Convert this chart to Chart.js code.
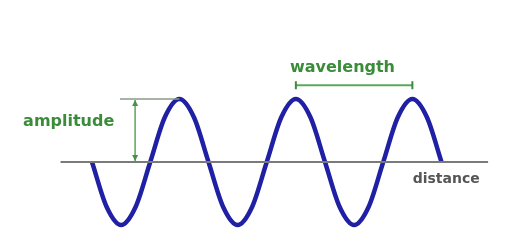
<!DOCTYPE html>
<html>
<head>
<meta charset="utf-8">
<style>
  body { margin: 0; background: #fff; }
  #box { width: 509px; height: 249px; }
</style>
</head>
<body>
<div id="box"><canvas id="wave" width="509" height="249"></canvas></div>
<script src="https://cdn.jsdelivr.net/npm/chart.js@4/dist/chart.umd.min.js"></script>
<script>
// distance in wavelengths, displacement in amplitudes
var wave_x = [0, 0.125, 0.25, 0.375, 0.5, 0.625, 0.75, 0.875,
              1, 1.125, 1.25, 1.375, 1.5, 1.625, 1.75, 1.875,
              2, 2.125, 2.25, 2.375, 2.5, 2.625, 2.75, 2.875, 3];
var wave_y = [0, -0.71, -1, -0.71, 0, 0.71, 1, 0.71,
              0, -0.71, -1, -0.71, 0, 0.71, 1, 0.71,
              0, -0.71, -1, -0.71, 0, 0.71, 1, 0.71, 0];
var axis_x = [-0.27, 3.4];
var axis_y = [0, 0];

var label_text = ["amplitude", "wavelength", "distance"];
var amp_at = 0.37;          // where the amplitude arrow stands
var amp_value = 1;
var wl_from = 1.75, wl_to = 2.75, wl_level = 1.22;

function pts(xs, ys) {
    var out = [];
    for (var i = 0; i < xs.length; i++) out.push({x: xs[i], y: ys[i]});
    return out;
}

var green = "#5aa85a";
var greenText = "#3a8c3a";

var marks = {
    id: "marks",
    afterDatasetsDraw: function (chart) {
        var ctx = chart.ctx;
        var sx = chart.scales.x, sy = chart.scales.y;
        var px = function (v) { return sx.getPixelForValue(v); };
        var py = function (v) { return sy.getPixelForValue(v); };
        ctx.save();

        // guide line at the crest
        ctx.strokeStyle = "#8a9a8a";
        ctx.lineWidth = 1.5;
        ctx.beginPath();
        ctx.moveTo(px(amp_at - 0.13), py(amp_value));
        ctx.lineTo(px(0.75), py(amp_value));
        ctx.stroke();

        // amplitude arrow
        var ax = px(amp_at), top = py(amp_value) + 1, bot = py(0) - 1;
        ctx.strokeStyle = green;
        ctx.lineWidth = 1.5;
        ctx.beginPath();
        ctx.moveTo(ax, top);
        ctx.lineTo(ax, bot);
        ctx.stroke();
        ctx.fillStyle = "#4a8f4a";
        ctx.beginPath();
        ctx.moveTo(ax, top); ctx.lineTo(ax - 3, top + 6); ctx.lineTo(ax + 3, top + 6);
        ctx.closePath(); ctx.fill();
        ctx.beginPath();
        ctx.moveTo(ax, bot); ctx.lineTo(ax - 3, bot - 6); ctx.lineTo(ax + 3, bot - 6);
        ctx.closePath(); ctx.fill();

        // wavelength bar
        var wy = py(wl_level), x1 = px(wl_from), x2 = px(wl_to);
        ctx.strokeStyle = green;
        ctx.lineWidth = 2;
        ctx.beginPath();
        ctx.moveTo(x1, wy); ctx.lineTo(x2, wy);
        ctx.stroke();
        ctx.strokeStyle = "#3f8a3f";
        ctx.lineWidth = 2;
        ctx.beginPath();
        ctx.moveTo(x1, wy - 4); ctx.lineTo(x1, wy + 4);
        ctx.moveTo(x2, wy - 4); ctx.lineTo(x2, wy + 4);
        ctx.stroke();

        // labels
        ctx.textAlign = "center";
        ctx.textBaseline = "middle";
        ctx.font = "bold 16px 'Comic Sans MS', 'DejaVu Sans', sans-serif";
        ctx.fillStyle = greenText;
        ctx.fillText(label_text[0], px(-0.2), py(0.63));
        ctx.fillText(label_text[1], px(2.15), py(1.49));
        ctx.font = "bold 14px 'Comic Sans MS', 'DejaVu Sans', sans-serif";
        ctx.fillStyle = "#555";
        ctx.fillText(label_text[2], px(3.04), py(-0.28));
        ctx.restore();
    }
};

new Chart(document.getElementById("wave"), {
    type: "line",
    data: {
        datasets: [{
            data: pts(axis_x, axis_y),
            borderColor: "#7a7a7a",
            borderWidth: 2,
            pointRadius: 0
        }, {
            data: pts(wave_x, wave_y),
            borderColor: "#2020a4",
            borderWidth: 4.5,
            pointRadius: 0,
            cubicInterpolationMode: "monotone"
        }]
    },
    options: {
        responsive: false,
        animation: false,
        layout: { padding: 0 },
        plugins: { legend: { display: false }, tooltip: { enabled: false } },
        scales: {
            x: { type: "linear", display: false, min: -92 / 116.5, max: 417 / 116.5 },
            y: { type: "linear", display: false, min: -87 / 63, max: 162 / 63 }
        }
    },
    plugins: [marks]
});
</script>
</body>
</html>
